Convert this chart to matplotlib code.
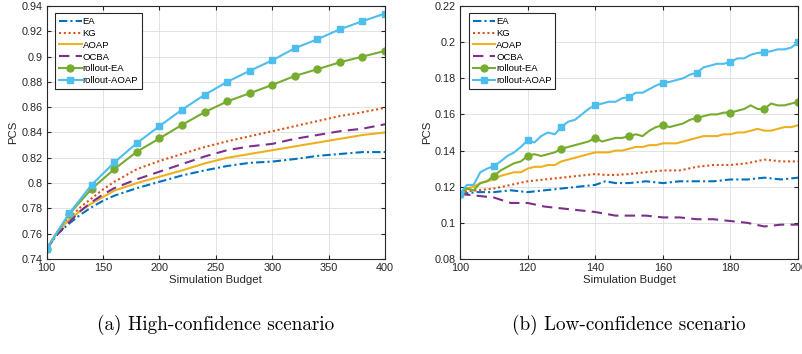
import numpy as np
import matplotlib.pyplot as plt
from matplotlib.ticker import FuncFormatter

# ---- high-confidence scenario (a) ----
x_hi = [100, 110, 120, 130, 140, 150, 160, 180, 200, 220, 240, 260, 280, 300,
        320, 340, 360, 380, 400]
ea_hi = [0.748, 0.760, 0.768, 0.775, 0.781, 0.786, 0.790, 0.796, 0.801, 0.806,
         0.810, 0.8135, 0.816, 0.817, 0.819, 0.8215, 0.823, 0.8245, 0.8245]
kg_hi = [0.748, 0.762, 0.772, 0.781, 0.788, 0.795, 0.801, 0.811, 0.8175, 0.823,
         0.8285, 0.833, 0.837, 0.841, 0.845, 0.849, 0.853, 0.856, 0.8595]
aoap_hi = [0.748, 0.762, 0.771, 0.778, 0.784, 0.789, 0.794, 0.800, 0.805, 0.810,
           0.8155, 0.820, 0.823, 0.826, 0.829, 0.832, 0.835, 0.838, 0.840]
ocba_hi = [0.748, 0.760, 0.769, 0.778, 0.785, 0.791, 0.796, 0.803, 0.809, 0.815,
           0.821, 0.826, 0.829, 0.831, 0.835, 0.838, 0.841, 0.843, 0.8465]
x_hi_roll = [100, 120, 140, 160, 180, 200, 220, 240, 260, 280, 300, 320, 340,
             360, 380, 400]
rea_hi = [0.748, 0.7755, 0.7955, 0.811, 0.8248, 0.8353, 0.846, 0.856, 0.8645,
          0.871, 0.8776, 0.8847, 0.890, 0.8955, 0.900, 0.9045]
raoap_hi = [0.748, 0.776, 0.7987, 0.8163, 0.8316, 0.845, 0.858, 0.8697, 0.880,
            0.8887, 0.897, 0.9066, 0.9137, 0.9216, 0.928, 0.934]

# ---- low-confidence scenario (b) ----
x_lo = [100, 102, 104, 106, 108, 110, 112, 114, 116, 118, 120, 122, 124, 126,
        128, 130, 132, 134, 136, 138, 140, 142, 144, 146, 148, 150, 152, 154,
        156, 158, 160, 162, 164, 166, 168, 170, 172, 174, 176, 178, 180, 182,
        184, 186, 188, 190, 192, 194, 196, 198, 200]
raoap_lo = [0.116, 0.121, 0.121, 0.128, 0.130, 0.1314, 0.134, 0.137, 0.139, 0.142,
            0.1457, 0.1445, 0.148, 0.150, 0.149, 0.1531, 0.156, 0.157, 0.160, 0.163,
            0.1652, 0.166, 0.167, 0.167, 0.169, 0.1696, 0.172, 0.172, 0.174, 0.176,
            0.1775, 0.178, 0.179, 0.180, 0.182, 0.183, 0.186, 0.187, 0.188, 0.188,
            0.189, 0.191, 0.191, 0.193, 0.194, 0.1943, 0.195, 0.196, 0.196, 0.197,
            0.200]
rea_lo = [0.116, 0.119, 0.118, 0.122, 0.123, 0.126, 0.129, 0.131, 0.133, 0.134,
          0.137, 0.138, 0.137, 0.138, 0.139, 0.141, 0.142, 0.143, 0.144, 0.145,
          0.147, 0.145, 0.146, 0.147, 0.147, 0.148, 0.149, 0.148, 0.151, 0.153,
          0.154, 0.153, 0.154, 0.155, 0.157, 0.158, 0.159, 0.160, 0.160, 0.161,
          0.161, 0.162, 0.163, 0.165, 0.163, 0.163, 0.166, 0.165, 0.165, 0.166,
          0.167]
aoap_lo = [0.116, 0.119, 0.120, 0.122, 0.123, 0.124, 0.126, 0.127, 0.128, 0.128,
           0.130, 0.131, 0.131, 0.132, 0.132, 0.134, 0.135, 0.136, 0.137, 0.138,
           0.139, 0.139, 0.139, 0.140, 0.140, 0.141, 0.142, 0.142, 0.143, 0.143,
           0.144, 0.144, 0.144, 0.145, 0.146, 0.147, 0.148, 0.148, 0.148, 0.149,
           0.149, 0.150, 0.150, 0.151, 0.152, 0.151, 0.151, 0.152, 0.153, 0.153,
           0.154]
x_lo_s = [100, 105, 110, 115, 120, 125, 130, 135, 140, 143, 146, 150, 155, 160,
          165, 170, 175, 180, 185, 190, 195, 200]
kg_lo = [0.117, 0.118, 0.119, 0.121, 0.123, 0.124, 0.125, 0.126, 0.127, 0.1265,
         0.1265, 0.127, 0.128, 0.129, 0.129, 0.131, 0.132, 0.132, 0.133, 0.135,
         0.134, 0.134]
ea_lo = [0.116, 0.117, 0.117, 0.118, 0.117, 0.118, 0.119, 0.120, 0.121, 0.123,
         0.122, 0.122, 0.123, 0.122, 0.123, 0.123, 0.123, 0.124, 0.124, 0.125,
         0.124, 0.125]
ocba_lo = [0.116, 0.115, 0.114, 0.111, 0.111, 0.109, 0.108, 0.107, 0.106, 0.105,
           0.104, 0.104, 0.104, 0.103, 0.103, 0.102, 0.102, 0.101, 0.100, 0.098,
           0.099, 0.099]

labels = ['EA', 'KG', 'AOAP', 'OCBA', 'rollout-EA', 'rollout-AOAP']
colors = ['#0072BD', '#D95319', '#EDB120', '#7E2F8E', '#77AC30', '#4DBEEE']

plt.rcParams['font.family'] = ['Liberation Sans', 'DejaVu Sans']

fig = plt.figure(figsize=(8.03, 3.54), dpi=100)
ax1 = fig.add_axes([0.058, 0.2684, 0.4215, 0.7147])
ax2 = fig.add_axes([0.5729, 0.2684, 0.421, 0.7147])


def draw(ax, xs, ys, xr, yr, mark_every):
    lw = 1.5
    ax.plot(xs[0], ys[0], color=colors[0], lw=lw, ls=(0, (4, 1.5, 1, 1.5)), label=labels[0])
    ax.plot(xs[1], ys[1], color=colors[1], lw=lw, ls=(0, (1, 1.3)), label=labels[1])
    ax.plot(xs[2], ys[2], color=colors[2], lw=lw, ls='-', label=labels[2])
    ax.plot(xs[3], ys[3], color=colors[3], lw=lw, ls=(0, (5, 3)), label=labels[3])
    ax.plot(xr, yr[0], color=colors[4], lw=lw, marker='o', ms=5,
            markevery=mark_every, label=labels[4])
    ax.plot(xr, yr[1], color=colors[5], lw=lw, marker='s', ms=5,
            markevery=mark_every, label=labels[5])
    ax.grid(True, color='#dedede', lw=0.6)
    ax.set_axisbelow(True)
    ax.tick_params(direction='in', top=True, right=True, labelsize=7.8,
                   length=3, color='#262626', labelcolor='#262626', pad=3)
    for s in ax.spines.values():
        s.set_color('#262626')
        s.set_linewidth(0.8)
    ax.yaxis.set_major_formatter(FuncFormatter(lambda v, p: '%g' % round(v, 4)))
    ax.set_xlabel('Simulation Budget', fontsize=8.2, color='#262626', labelpad=1)
    ax.set_ylabel('PCS', fontsize=8.2, color='#262626', labelpad=2)
    leg = ax.legend(loc='upper left', fontsize=6.8, handlelength=2.4,
                    handletextpad=0.1, labelspacing=0.3, borderpad=0.4,
                    fancybox=False, framealpha=1, bbox_to_anchor=(0.012, 0.99))
    leg.get_frame().set_edgecolor('#262626')
    leg.get_frame().set_linewidth(0.8)


draw(ax1, [x_hi] * 4, [ea_hi, kg_hi, aoap_hi, ocba_hi], x_hi_roll,
     [rea_hi, raoap_hi], 1)
ax1.set_xlim(100, 400)
ax1.set_ylim(0.74, 0.94)
ax1.set_xticks(np.arange(100, 401, 50))
ax1.set_yticks(np.arange(0.74, 0.9401, 0.02))

draw(ax2, [x_lo_s, x_lo_s, x_lo, x_lo_s], [ea_lo, kg_lo, aoap_lo, ocba_lo], x_lo,
     [rea_lo, raoap_lo], 5)
ax2.set_xlim(100, 200)
ax2.set_ylim(0.08, 0.22)
ax2.set_xticks(np.arange(100, 201, 20))
ax2.set_yticks(np.arange(0.08, 0.2201, 0.02))

fig.text(0.268, 0.082, '(a) High-confidence scenario', family='cmr10',
         fontsize=13.8, ha='center', va='center')
fig.text(0.783, 0.082, '(b) Low-confidence scenario', family='cmr10',
         fontsize=13.8, ha='center', va='center')

fig.savefig('out.png', dpi=100)
